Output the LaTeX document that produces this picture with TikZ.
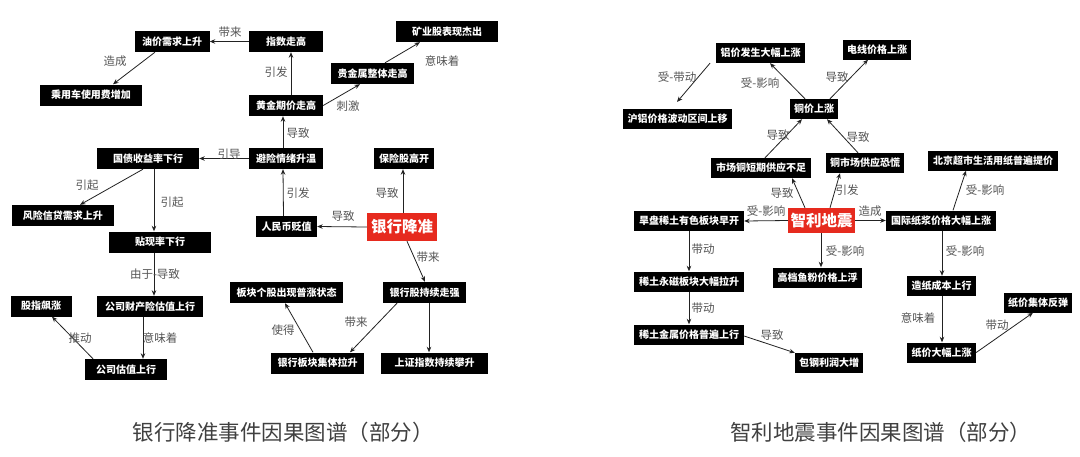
\documentclass[tikz,border=0pt]{standalone}
\usepackage{fontspec}
\setmainfont{Noto Sans CJK SC}
\usetikzlibrary{arrows.meta}
\definecolor{nred}{HTML}{E62A1E}
\definecolor{lblgray}{HTML}{555555}
\definecolor{edgecol}{HTML}{222222}
\tikzset{
 bx/.style={fill=black, text=white, font=\fontsize{10}{12}\selectfont\bfseries, minimum height=21pt, inner sep=0pt},
 ev/.style={fill=nred, text=white, font=\fontsize{15.5}{18}\selectfont\bfseries, inner sep=0pt},
 lbl/.style={text=lblgray, font=\fontsize{11.5}{13}\selectfont, inner sep=0pt},
 captext/.style={text=black!75, font=\fontsize{21.5}{24}\selectfont, inner sep=0pt},
 ar/.style={draw=edgecol, line width=0.8pt, -{Stealth[length=5.5pt,width=4.5pt]}},
}
\begin{document}
\begin{tikzpicture}[x=1pt,y=-1pt]
\useasboundingbox (0,0) rectangle (1080,456);
\fill[white] (0,0) rectangle (1080,456);

% ---------------- left diagram ----------------
\node[bx, minimum width=75pt] (oil) at (172,41.5) {油价需求上升};
\node[bx, minimum width=102pt] (car) at (91,95) {乘用车使用费增加};
\node[bx, minimum width=74pt] (idx) at (286,41.5) {指数走高};
\node[bx, minimum width=102pt] (mine) at (447,31.5) {矿业股表现杰出};
\node[bx, minimum width=83pt] (metal) at (372.5,73.5) {贵金属整体走高};
\node[bx, minimum width=74pt] (gold) at (286,105.5) {黄金期价走高};
\node[bx, minimum width=74pt] (hedge) at (286,158.5) {避险情绪升温};
\node[bx, minimum width=102pt] (bond) at (148,158.5) {国债收益率下行};
\node[bx, minimum width=60pt] (ins) at (404,158.5) {保险股高开};
\node[bx, minimum width=102pt] (risk) at (63,215.5) {风险信贷需求上升};
\node[bx, minimum width=102pt] (disc) at (160,242) {贴现率下行};
\node[bx, minimum width=106pt] (prop) at (150,306.5) {公司财产险估值上行};
\node[bx, minimum width=61pt] (stk) at (41,306) {股指飙涨};
\node[bx, minimum width=82pt] (val) at (126,369.5) {公司估值上行};
\node[bx, minimum width=61pt] (rmb) at (286.5,226.5) {人民币贬值};
\node[ev, minimum width=70pt, minimum height=28pt] (bank) at (402,227) {银行降准};
\node[bx, minimum width=113pt] (plate) at (286.5,292.5) {板块个股出现普涨状态};
\node[bx, minimum width=83pt] (bstk) at (424.5,292.5) {银行股持续走强};
\node[bx, minimum width=93pt] (bsec) at (317.5,363) {银行板块集体拉升};
\node[bx, minimum width=107pt] (sh) at (434.5,363) {上证指数持续攀升};

\draw[ar] (idx.west) -- (oil.east);
\draw[ar] ([xshift=-17]oil.south) -- ([xshift=22]car.north);
\draw[ar] ([xshift=5]gold.north) -- ([xshift=5]idx.south);
\draw[ar] (gold.east) -- ([xshift=-12.5]metal.south);
\draw[ar] ([xshift=12.5]metal.north) -- ([xshift=-27]mine.south);
\draw[ar] ([xshift=-3]hedge.north) -- ([xshift=-3]gold.south);
\draw[ar] (hedge.west) -- (bond.east);
\draw[ar] ([xshift=-3]rmb.north) -- ([xshift=-3]hedge.south);
\draw[ar] (bank.west) -- (rmb.east);
\draw[ar] ([xshift=1]bank.north) -- ([xshift=-1]ins.south);
\draw[ar] ([xshift=-5]bond.south) -- ([xshift=17]risk.north);
\draw[ar] ([xshift=6]bond.south) -- ([xshift=-6]disc.north);
\draw[ar] ([xshift=-6]disc.south) -- ([xshift=4]prop.north);
\draw[ar] ([xshift=-7]prop.south) -- ([xshift=17]val.north);
\draw[ar] ([xshift=-33]val.north) -- ([xshift=11]stk.south);
\draw[ar] ([xshift=5]bank.south) -- ([xshift=0.5]bstk.north);
\draw[ar] ([xshift=4.5]bstk.south) -- ([xshift=-5.5]sh.north);
\draw[ar] ([xshift=-27.5]bstk.south) -- ([xshift=32.5]bsec.north);
\draw[ar] ([xshift=-4.5]bsec.north) -- ([xshift=-1.5]plate.south);

\node[lbl] (la1) at (230,32) {带来};
\node[lbl] (la2) at (115,61) {造成};
\node[lbl] (la3) at (276,72) {引发};
\node[lbl] (la4) at (348,106) {刺激};
\node[lbl] (la5) at (442,61) {意味着};
\node[lbl] (la6) at (298,133) {导致};
\node[lbl] (la7) at (229,154) {引导};
\node[lbl] (la8) at (298,193) {引发};
\node[lbl] (la9) at (343,216) {导致};
\node[lbl] (la10) at (387,193) {导致};
\node[lbl] (la11) at (87,185) {引起};
\node[lbl] (la12) at (172,202) {引起};
\node[lbl] (la13) at (155,274) {由于-导致};
\node[lbl] (la14) at (160,338) {意味着};
\node[lbl] (la15) at (80,338) {推动};
\node[lbl] (la16) at (428,257) {带来};
\node[lbl] (la17) at (356,322) {带来};
\node[lbl] (la18) at (283,330) {使得};

% ---------------- right diagram ----------------
\node[bx, minimum width=89pt, minimum height=20pt] (al) at (760.5,53) {铝价发生大幅上涨};
\node[bx, minimum width=109pt, minimum height=20pt] (hual) at (677.5,119) {沪铝价格波动区间上移};
\node[bx, minimum width=48pt, minimum height=20pt] (cu) at (814,109) {铜价上涨};
\node[bx, minimum width=100pt, minimum height=20pt] (short) at (761,168) {市场铜短期供应不足};
\node[bx, minimum width=68pt, minimum height=20pt] (wire) at (877,49.5) {电线价格上涨};
\node[bx, minimum width=78pt, minimum height=20pt] (panic) at (865,163) {铜市场供应恐慌};
\node[bx, minimum width=130pt, minimum height=20pt] (bj) at (993,160.5) {北京超市生活用纸普遍提价};
\node[ev, minimum width=67pt, minimum height=25pt] (chile) at (821.5,220.5) {智利地震};
\node[bx, minimum width=110pt, minimum height=20pt] (rare) at (689,221) {旱盘稀土有色板块早开};
\node[bx, minimum width=110pt, minimum height=20pt] (mag) at (689,281.5) {稀土永磁板块大幅拉升};
\node[bx, minimum width=110pt, minimum height=20pt] (metal2) at (689,334.5) {稀土金属价格普遍上行};
\node[bx, minimum width=89pt, minimum height=20pt] (fish) at (817.5,277.5) {高档鱼粉价格上浮};
\node[bx, minimum width=68pt, minimum height=20pt] (bao) at (829,363) {包钢利润大增};
\node[bx, minimum width=110pt, minimum height=20pt] (pulp) at (941,220.5) {国际纸浆价格大幅上涨};
\node[bx, minimum width=69pt, minimum height=20pt] (cost) at (941.5,286) {造纸成本上行};
\node[bx, minimum width=68pt, minimum height=20pt] (rebound) at (1038,302.5) {纸价集体反弹};
\node[bx, minimum width=69pt, minimum height=20pt] (paper) at (941.5,352.5) {纸价大幅上涨};
\coordinate (hualend) at (677,102);

\draw[ar] (chile.west) -- (rare.east);
\draw[ar] (chile.east) -- (pulp.west);
\draw[ar] ([xshift=-0.5]chile.south) -- ([xshift=3.5]fish.north);
\draw[ar] ([xshift=-16.5]chile.north) -- ([xshift=31]short.south);
\draw[ar] ([xshift=8.5]chile.north) -- ([xshift=-25]panic.south);
\draw[ar] ([xshift=4]short.north) -- ([xshift=-12]cu.south);
\draw[ar] ([xshift=-7]panic.north) -- ([xshift=13]cu.south);
\draw[ar] ([xshift=-9]cu.north) -- ([xshift=9.5]al.south);
\draw[ar] ([xshift=-50.5]al.south) -- (hualend);
\draw[ar] ([xshift=16]cu.north) -- ([xshift=-9]wire.south);
\draw[ar] ([xshift=12]pulp.north) -- ([xshift=-27]bj.south);
\draw[ar] ([xshift=1]pulp.south) -- ([xshift=0.5]cost.north);
\draw[ar] ([xshift=0.5]cost.south) -- ([xshift=0.5]paper.north);
\draw[ar] (paper.east) -- ([xshift=-5]rebound.south);
\draw[ar] (rare.south) -- (mag.north);
\draw[ar] (mag.south) -- (metal2.north);
\draw[ar] ([yshift=-1.5]metal2.east) -- (bao.north west);

\node[lbl] (lb1) at (766,211) {受-影响};
\node[lbl] (lb2) at (870,211) {造成};
\node[lbl] (lb3) at (845,251) {受-影响};
\node[lbl] (lb4) at (782,193) {导致};
\node[lbl] (lb5) at (847,190) {引发};
\node[lbl] (lb6) at (778,135) {导致};
\node[lbl] (lb7) at (858,137) {导致};
\node[lbl] (lb8) at (760,83) {受-影响};
\node[lbl] (lb9) at (677,77) {受-带动};
\node[lbl] (lb10) at (837,77) {导致};
\node[lbl] (lb11) at (985,190) {受-影响};
\node[lbl] (lb12) at (965,251) {受-影响};
\node[lbl] (lb13) at (918,318) {意味着};
\node[lbl] (lb14) at (997,325) {带动};
\node[lbl] (lb15) at (703,249) {带动};
\node[lbl] (lb16) at (703,308) {带动};
\node[lbl] (lb17) at (772,335) {导致};

% ---------------- captions ----------------
\node[captext] (capL) at (283,432) {银行降准事件因果图谱（部分）};
\node[captext] (capR) at (880.5,432) {智利地震事件因果图谱（部分）};
\end{tikzpicture}
\end{document}
